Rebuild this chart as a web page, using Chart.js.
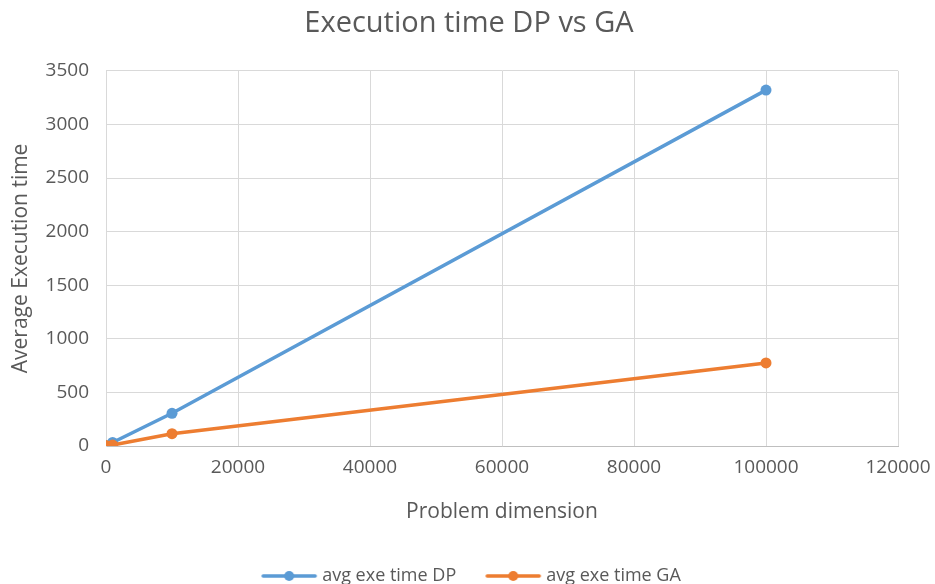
<!DOCTYPE html>
<html>
<head>
<meta charset="utf-8">
<script src="https://cdn.jsdelivr.net/npm/chart.js@4.4.1/dist/chart.umd.min.js"></script>
<style>
html,body{margin:0;padding:0;background:#fff;}
#wrap{width:935px;height:584px;}
</style>
</head>
<body>
<div id="wrap"><canvas id="c" width="935" height="584"></canvas></div>
<script>
const problemDims = [10, 100, 1000, 10000, 100000];
const dpTimes = [0.05, 0.5, 33, 305, 3320];
const gaTimes = [0.5, 1.5, 9, 115, 775];
const seriesNames = ['avg exe time DP', 'avg exe time GA'];
const seriesColors = ['#5b9bd5', '#ed7d31'];
const xTicks = [0, 20000, 40000, 60000, 80000, 100000, 120000];
const yTicks = [0, 500, 1000, 1500, 2000, 2500, 3000, 3500];

const FONT = "'Open Sans', 'Liberation Sans', sans-serif";
const TXT = '#595959';

// legend icon: image wider than its box so the line sits close to the text
const BOXW = 72;
function legendIcon(color) {
  const cv = document.createElement('canvas');
  cv.width = 82; cv.height = 14;
  const g = cv.getContext('2d');
  g.strokeStyle = color; g.lineWidth = 3.5; g.lineCap = 'round';
  g.beginPath(); g.moveTo(27, 7); g.lineTo(79, 7); g.stroke();
  g.fillStyle = color;
  g.beginPath(); g.arc(53, 7, 5, 0, Math.PI * 2); g.fill();
  return cv;
}
const icons = seriesColors.map(legendIcon);

const datasets = [dpTimes, gaTimes].map((vals, i) => ({
  label: seriesNames[i],
  data: problemDims.map((x, j) => ({x: x, y: vals[j]})),
  borderColor: seriesColors[i],
  backgroundColor: seriesColors[i],
  borderWidth: 3.5,
  pointRadius: 5.5,
  pointHoverRadius: 5.5,
  pointBorderWidth: 0,
  tension: 0,
  showLine: true
}));
datasets[0].order = 2;
datasets[1].order = 1;

const legendShift = {
  id: 'legendShift',
  afterLayout(chart) {
    if (chart.legend) { chart.legend.left -= 8; chart.legend.right -= 8; }
  }
};

new Chart(document.getElementById('c'), {
  type: 'scatter',
  data: {datasets},
  plugins: [legendShift],
  options: {
    responsive: false,
    animation: false,
    devicePixelRatio: 1,
    layout: {padding: {left: 3, right: 0, top: 6, bottom: -11}},
    plugins: {
      title: {
        display: true,
        text: 'Execution time DP vs GA',
        color: TXT,
        font: {family: FONT, size: 29, weight: 'normal'},
        padding: {top: 0, bottom: 30}
      },
      legend: {
        position: 'bottom',
        labels: {
          usePointStyle: true,
          pointStyleWidth: BOXW,
          color: TXT,
          font: {family: FONT, size: 18},
          padding: 9,
          generateLabels: (chart) => chart.data.datasets.map((d, i) => ({
            text: d.label,
            fillStyle: d.backgroundColor,
            strokeStyle: d.borderColor,
            lineWidth: 0,
            pointStyle: icons[i],
            fontColor: TXT,
            hidden: false,
            datasetIndex: i
          }))
        }
      },
      tooltip: {enabled: false}
    },
    scales: {
      x: {
        type: 'linear',
        min: 0, max: 120000,
        afterBuildTicks: (s) => { s.ticks = xTicks.map(v => ({value: v})); },
        afterFit: (s) => { s.paddingRight = 37; s.paddingLeft = 0; },
        ticks: {color: TXT, font: {family: FONT, size: 19}, padding: 10, maxRotation: 0,
                callback: (v) => String(v)},
        grid: {color: '#d9d9d9', lineWidth: 1, drawTicks: false},
        border: {color: '#bfbfbf'},
        title: {display: true, text: 'Problem dimension', color: TXT,
                font: {family: FONT, size: 21}, padding: {top: 11, bottom: 33}}
      },
      y: {
        type: 'linear',
        min: 0, max: 3500,
        afterBuildTicks: (s) => { s.ticks = yTicks.map(v => ({value: v})); },
        afterFit: (s) => { s.width = 103; },
        ticks: {color: TXT, font: {family: FONT, size: 19}, padding: 17,
                callback: (v) => String(v)},
        grid: {color: '#d9d9d9', lineWidth: 1, drawTicks: false},
        border: {color: '#d9d9d9'},
        title: {display: true, text: 'Average Execution time', color: TXT,
                font: {family: FONT, size: 21}, padding: {top: 5, bottom: 0}}
      }
    }
  }
});
</script>
</body>
</html>
